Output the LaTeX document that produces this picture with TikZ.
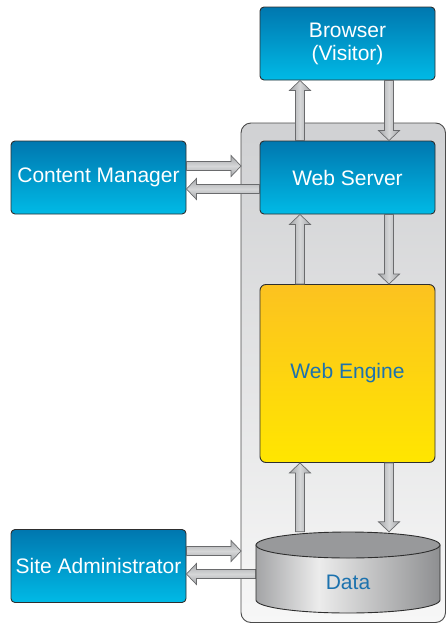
\documentclass[tikz,border=0pt]{standalone}
\usepackage{fontspec}
\setmainfont{Liberation Sans}
\usetikzlibrary{calc}
\definecolor{bluetop}{HTML}{0077AF}
\definecolor{bluebot}{HTML}{00BAE6}
\definecolor{yeltop}{HTML}{FCC220}
\definecolor{yelbot}{HTML}{FFE600}
\definecolor{boxline}{HTML}{2E2E2E}
\definecolor{conttop}{HTML}{D0D1D3}
\definecolor{contbot}{HTML}{F7F7F7}
\definecolor{contline}{HTML}{4A4A4A}
\definecolor{arrfill}{HTML}{A4A6A9}
\definecolor{arrlight}{HTML}{D6D7D8}
\definecolor{arrline}{HTML}{6A6B6D}
\definecolor{textblue}{HTML}{1C72AE}
\definecolor{cylA}{HTML}{A3A4A6}
\definecolor{cylB}{HTML}{ECECEC}
\definecolor{cylC}{HTML}{8E8F91}
\definecolor{cyltop}{HTML}{98999B}
\pgfdeclarehorizontalshading{cylbody}{100bp}{color(0bp)=(cylA); color(25bp)=(cylA); color(42bp)=(cylB); color(75bp)=(cylC); color(100bp)=(cylC)}
\tikzset{
  bluebox/.style={draw=boxline, line width=0.9pt, rounded corners=4pt, top color=bluetop, bottom color=bluebot,
    minimum width=175pt, minimum height=73pt, inner sep=0pt, text=white, align=center,
    font=\fontsize{21}{23}\selectfont},
  blockarrow/.style={draw=arrline, line width=0.7pt, line join=miter, to path={
    let \p1=(\tikztostart), \p2=(\tikztotarget),
        \n1={veclen(\x2-\x1,\y2-\y1)},
        \n2={(\x2-\x1)/\n1}, \n3={(\y2-\y1)/\n1}
    in
    ({\x1-4.5*(\n3)},{\y1+4.5*(\n2)})
    -- ({\x2-10*(\n2)-4.5*(\n3)},{\y2-10*(\n3)+4.5*(\n2)})
    -- ({\x2-10*(\n2)-10.5*(\n3)},{\y2-10*(\n3)+10.5*(\n2)})
    -- (\x2,\y2)
    -- ({\x2-10*(\n2)+10.5*(\n3)},{\y2-10*(\n3)-10.5*(\n2)})
    -- ({\x2-10*(\n2)+4.5*(\n3)},{\y2-10*(\n3)-4.5*(\n2)})
    -- ({\x1+4.5*(\n3)},{\y1-4.5*(\n2)})
    -- cycle}},
  varrow/.style={blockarrow, left color=arrfill, right color=arrfill, middle color=arrlight},
  harrow/.style={blockarrow, top color=arrfill, bottom color=arrfill, middle color=arrlight},
}
\begin{document}
\begin{tikzpicture}[x=1pt,y=-1pt]
\useasboundingbox (0,0) rectangle (447,624);
% container
\path[draw=contline, line width=0.9pt, rounded corners=10pt, top color=conttop, bottom color=contbot]
  (241,123) rectangle (445.5,622.5);
\node[draw=none, minimum width=204pt, minimum height=499pt, inner sep=0pt] (cont) at (343.25,372.75) {};
% nodes
\node[bluebox] (br) at (347.5,43.5) {Browser\\(Visitor)};
\node[bluebox] (ws) at (347.5,177.5) {Web Server};
\node[bluebox] (cm) at (98.5,177.5) {Content Manager};
\node[bluebox] (sa) at (98.5,566) {Site Administrator};
\node[draw=boxline, line width=0.9pt, rounded corners=6pt, top color=yeltop, bottom color=yelbot,
  minimum width=175pt, minimum height=178pt, inner sep=0pt, text=textblue,
  font=\fontsize{21}{23}\selectfont] (we) at (347.5,373.5) {Web Engine};
% data cylinder
\node[minimum width=184pt, minimum height=81pt, inner sep=0pt] (data) at (348,572.5) {};
\coordinate (r1) at (0,166);
\coordinate (r2) at (0,189);
\coordinate (r3) at (0,551);
\coordinate (r4) at (0,574);
\coordinate (c1) at (300,0);
\coordinate (c2) at (389,0);
% arrows
\path[varrow] (ws.north -| c1) to (br.south -| c1);
\path[varrow] (br.south -| c2) to (ws.north -| c2);
\path[varrow] (we.north -| c1) to (ws.south -| c1);
\path[varrow] (ws.south -| c2) to (we.north -| c2);
\path[varrow] (data.north -| c1) to (we.south -| c1);
\path[varrow] (we.south -| c2) to (data.north -| c2);
\path[harrow] (cm.east |- r1) to (cont.west |- r1);
\path[harrow] (ws.west |- r2) to (cm.east |- r2);
\path[harrow] (sa.east |- r3) to (cont.west |- r3);
\path[harrow] (data.west |- r4) to (sa.east |- r4);
% cylinder drawing
\path[draw=boxline, line width=0.9pt, shading=cylbody]
  (256,545) -- (256,600) arc[start angle=180, end angle=360, x radius=92pt, y radius=13pt] -- (440,545) -- cycle;
\path[draw=boxline, line width=0.9pt, fill=cyltop] (348,545) ellipse[x radius=92pt, y radius=13pt];
\node[text=textblue, font=\fontsize{21}{23}\selectfont] (dl) at (348,582) {Data};
\end{tikzpicture}
\end{document}
